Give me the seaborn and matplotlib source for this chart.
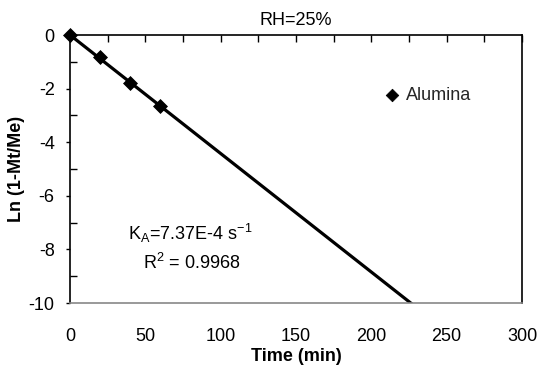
import matplotlib
matplotlib.use("Agg")
import matplotlib.pyplot as plt
import seaborn as sns
import numpy as np
import pandas as pd
from matplotlib.ticker import MultipleLocator

# data
time_min = [0, 20, 40, 60]
ln_vals = [0.0, -0.82, -1.78, -2.65]
series_name = "Alumina"
k_a = 7.37e-4          # s^-1
r2 = 0.9968
fit_t = [0, 300]
x_ticks = [0, 50, 100, 150, 200, 250, 300]
y_ticks = [0, -2, -4, -6, -8, -10]

sns.set_theme(style="white")
plt.rcParams['font.family'] = ['Liberation Sans', 'DejaVu Sans']
plt.rcParams['axes.unicode_minus'] = False

fig = plt.figure(figsize=(5.44, 3.70), dpi=100)
ax = fig.add_axes([0.1287, 0.181, 0.8309, 0.7244])

df = pd.DataFrame({"t": time_min, "y": ln_vals})
fit_df = pd.DataFrame({"t": fit_t, "y": [-k_a * 60 * t for t in fit_t]})

sns.lineplot(data=fit_df, x="t", y="y", ax=ax, color="black", lw=2.3, legend=False)
sns.scatterplot(data=df, x="t", y="y", ax=ax, marker="D", s=50, color="black",
                edgecolor="black", label=series_name, zorder=5, clip_on=False)

ax.set_xlim(0, 300)
ax.set_ylim(-10, 0)
ax.set_xticks(x_ticks)
ax.set_yticks(y_ticks)
ax.xaxis.set_minor_locator(MultipleLocator(25))
ax.yaxis.set_minor_locator(MultipleLocator(1))
ax.tick_params(axis='x', which='both', top=True, bottom=False, direction='in',
               length=5, width=1, color='black', labelsize=13, pad=18, labelcolor='black')
ax.tick_params(axis='y', which='major', left=True, right=False, direction='out',
               length=3, width=1, color='black', labelsize=13, labelcolor='black', pad=8)
ax.tick_params(axis='y', which='minor', left=True, right=False, direction='in',
               length=5, width=1, color='black')

for s in ['left', 'top', 'right']:
    ax.spines[s].set_color('black')
    ax.spines[s].set_linewidth(1.2)
ax.spines['bottom'].set_color('#888888')
ax.spines['bottom'].set_linewidth(1.2)

ax.set_xlabel("Time (min)", fontsize=13, fontweight='bold', labelpad=2, color='black')
ax.set_ylabel("Ln (1-Mt/Me)", fontsize=13, fontweight='bold', labelpad=3, color='black')
ax.set_title("RH=25%", fontsize=13, pad=7, color='black')

ax.text(80, -7.39, r"K$_\mathregular{A}$=7.37E-4 s$^\mathregular{-1}$", fontsize=13,
        ha='center', va='center', color='black')
ax.text(81, -8.5, r"R$^\mathregular{2}$ = 0.9968", fontsize=13,
        ha='center', va='center', color='black')

ax.legend(loc='center left', bbox_to_anchor=(0.692, 0.776), frameon=False,
          fontsize=13, handlelength=1.0, handletextpad=0.3, markerscale=0.9,
          borderaxespad=0, borderpad=0)

fig.savefig("out.png", dpi=100)
